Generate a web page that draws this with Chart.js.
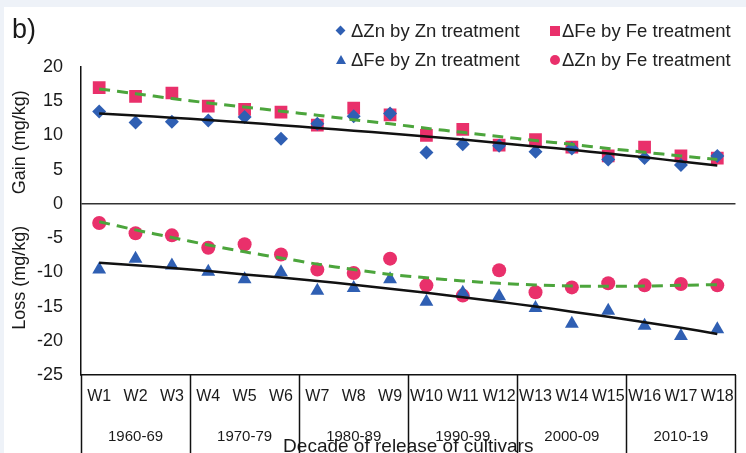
<!DOCTYPE html>
<html>
<head>
<meta charset="utf-8">
<script src="https://cdn.jsdelivr.net/npm/chart.js@4.4.1/dist/chart.umd.min.js"></script>
<style>
  html, body { margin: 0; padding: 0; }
  body { width: 746px; height: 453px; background: #eef2f8; position: relative; overflow: hidden; font-family: "Liberation Sans", Arial, sans-serif; }
  #panel { position: absolute; left: 4px; top: 7px; right: 0; bottom: 0; background: #fff; }
  #chart { position: absolute; left: 0; top: 0; }
  .lbl { position: absolute; color: #1a1a1a; white-space: nowrap; }
  .leg { position: absolute; font-size: 18.5px; color: #222; white-space: nowrap; line-height: 20px; }
  .mk { position: absolute; }
</style>
</head>
<body>
<div id="panel"></div>
<canvas id="chart" width="746" height="453"></canvas>
<div class="lbl" style="left:12px; top:14px; font-size:27px;">b)</div>

<div class="mk" style="left:337px; top:27px; width:7px; height:7px; background:#2f5fb3; transform:rotate(45deg);"></div>
<div class="leg" style="left:351px; top:21px;">ΔZn by Zn treatment</div>
<div class="mk" style="left:550px; top:26px; width:10px; height:10px; background:#e9306b;"></div>
<div class="leg" style="left:562px; top:21px;">ΔFe by Fe treatment</div>
<div class="mk" style="left:336px; top:55px; width:0; height:0; border-left:5px solid transparent; border-right:5px solid transparent; border-bottom:9px solid #2f5fb3;"></div>
<div class="leg" style="left:351px; top:50px;">ΔFe by Zn treatment</div>
<div class="mk" style="left:550px; top:55px; width:10px; height:10px; border-radius:50%; background:#e9306b;"></div>
<div class="leg" style="left:562px; top:50px;">ΔZn by Fe treatment</div>

<script>
var weeks = ["W1","W2","W3","W4","W5","W6","W7","W8","W9","W10","W11","W12","W13","W14","W15","W16","W17","W18"];
var decades = ["1960-69","1970-79","1980-89","1990-99","2000-09","2010-19"];

// gain (upper half)
var znByZn = [13.5, 11.9, 12.0, 12.2, 12.7, 9.5, 11.7, 12.8, 13.2, 7.5, 8.7, 8.5, 7.6, 8.1, 6.5, 6.7, 5.7, 7.0];
var feByFe = [17.0, 15.7, 16.2, 14.3, 13.8, 13.4, 11.5, 14.0, 13.0, 10.0, 10.9, 8.6, 9.4, 8.3, 7.0, 8.3, 7.0, 6.7];
// loss (lower half)
var feByZn = [-9.6, -8.0, -9.0, -9.9, -11.0, -10.0, -12.7, -12.3, -11.0, -14.3, -13.0, -13.5, -15.2, -17.5, -15.6, -17.8, -19.3, -18.3];
var znByFe = [-2.8, -4.3, -4.6, -6.4, -5.9, -7.4, -9.6, -10.1, -8.0, -11.9, -13.4, -9.7, -12.9, -12.2, -11.6, -11.9, -11.7, -11.9];

// trend lines
var trendZnByZn = [13.2, 12.9, 12.6, 12.25, 11.9, 11.5, 11.1, 10.7, 10.3, 9.85, 9.4, 8.9, 8.4, 7.9, 7.35, 6.8, 6.2, 5.6];
var trendFeByFe = [16.8, 16.1, 15.4, 14.75, 14.15, 13.55, 12.95, 12.3, 11.7, 11.05, 10.45, 9.85, 9.25, 8.7, 8.1, 7.55, 7.0, 6.5];
var trendFeByZn = [-8.6, -8.95, -9.35, -9.8, -10.3, -10.75, -11.25, -11.8, -12.4, -13.0, -13.65, -14.3, -15.0, -15.75, -16.5, -17.3, -18.1, -19.0];
var trendZnByFe = [-2.6, -3.8, -4.9, -6.0, -7.0, -7.9, -8.8, -9.6, -10.3, -10.8, -11.25, -11.6, -11.85, -12.0, -12.05, -12.0, -11.9, -11.8];

var yTicks = [20, 15, 10, 5, 0, -5, -10, -15, -20, -25];

var blue = "#2f5fb3", pink = "#e9306b", green = "#4ca53c", black = "#111111";
var fontName = "'Liberation Sans', Arial, sans-serif";

function trend(data, color, dash) {
  return {
    data: data, borderColor: color, borderWidth: dash ? 3 : 2.5, borderDash: dash ? [11, 7] : [],
    pointRadius: 0, fill: false, tension: 0.3
  };
}
function marks(data, color, style, r) {
  return {
    data: data, showLine: false, pointStyle: style, pointRadius: r, pointHoverRadius: r,
    backgroundColor: color, borderColor: color, borderWidth: 0
  };
}

var extras = {
  id: "extras",
  afterDraw: function (chart) {
    var ctx = chart.ctx, y = chart.scales.y, x2 = chart.scales.x2, area = chart.chartArea;
    ctx.save();
    // decade separators
    ctx.strokeStyle = "#111";
    ctx.lineWidth = 1.5;
    var step = (x2.right - x2.left) / decades.length;
    for (var k = 0; k <= decades.length; k++) {
      var px = Math.round(x2.left + k * step) + 0.5;
      ctx.beginPath();
      ctx.moveTo(px, area.bottom);
      ctx.lineTo(px, chart.height);
      ctx.stroke();
    }
    // two y titles
    ctx.fillStyle = "#1a1a1a";
    ctx.font = "18px " + fontName;
    ctx.textAlign = "center";
    ctx.textBaseline = "middle";
    [["Gain (mg/kg)", 9], ["Loss (mg/kg)", -10.8]].forEach(function (t) {
      ctx.save();
      ctx.translate(20, y.getPixelForValue(t[1]));
      ctx.rotate(-Math.PI / 2);
      ctx.fillText(t[0], 0, 0);
      ctx.restore();
    });
    ctx.restore();
  }
};

new Chart(document.getElementById("chart"), {
  type: "line",
  data: {
    labels: weeks,
    datasets: [
      trend(trendZnByZn, black, false),
      trend(trendFeByFe, green, true),
      trend(trendFeByZn, black, false),
      trend(trendZnByFe, green, true),
      marks(znByZn, blue, "rectRot", 7),
      marks(feByFe, pink, "rect", 9),
      marks(feByZn, blue, "triangle", 8),
      marks(znByFe, pink, "circle", 7)
    ]
  },
  options: {
    responsive: false,
    devicePixelRatio: 1,
    animation: false,
    layout: { padding: { top: 67, right: 8, left: 0, bottom: 0 } },
    plugins: { legend: { display: false }, tooltip: { enabled: false } },
    scales: {
      x: {
        offset: true,
        grid: { display: false, drawTicks: false },
        border: { display: true, color: "#111", width: 1.5 },
        ticks: { color: "#1a1a1a", padding: 12, maxRotation: 0, autoSkip: false, font: { family: fontName, size: 16 } },
        afterFit: function (s) { s.height = 42; }
      },
      x2: {
        type: "category",
        labels: decades,
        position: "bottom",
        offset: true,
        grid: { display: false, drawTicks: false },
        border: { display: false },
        ticks: { color: "#1a1a1a", padding: 11, maxRotation: 0, font: { family: fontName, size: 15 } },
        title: { display: true, text: "Decade of release of cultivars", color: "#1a1a1a", padding: { top: 0, bottom: -3 }, font: { family: fontName, size: 19, lineHeight: 1 } },
        afterFit: function (s) { s.height = 36; }
      },
      y: {
        min: -25, max: 20,
        afterBuildTicks: function (s) { s.ticks = yTicks.map(function (v) { return { value: v }; }); },
        grid: {
          drawTicks: false,
          color: function (c) { return c.tick && c.tick.value === 0 ? "#333" : "rgba(0,0,0,0)"; },
          lineWidth: 1.5
        },
        border: { display: true, color: "#111", width: 1.5 },
        ticks: { color: "#1a1a1a", padding: 18, font: { family: fontName, size: 18 } },
        afterFit: function (s) { s.width = 81; }
      }
    }
  },
  plugins: [extras]
});
</script>
</body>
</html>
